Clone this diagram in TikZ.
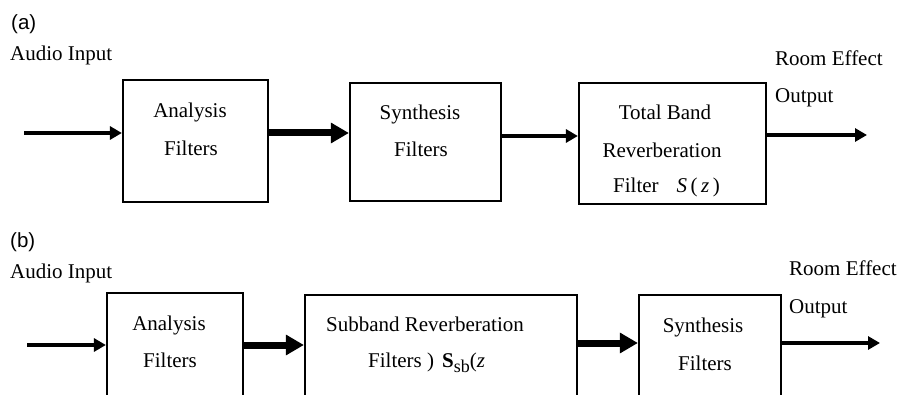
\documentclass[tikz,border=0pt]{standalone}
\usepackage{fontspec}
\setmainfont{Liberation Serif}
\newfontfamily\labelfont{Liberation Sans}
\usetikzlibrary{arrows.meta}

\tikzset{
  blk/.style={draw=black, line width=2.2pt, inner sep=0pt, rectangle},
  txt/.style={inner sep=0pt, anchor=base, font=\fontsize{21}{25}\selectfont},
  txtl/.style={txt, anchor=base west},
  tag/.style={inner sep=0pt, anchor=west, font=\labelfont\fontsize{20.5}{24}\selectfont},
  thinarr/.style={line width=3.8pt, -{Triangle[length=12pt,width=13pt]}},
  thickarr/.style={line width=7pt, -{Triangle[length=18pt,width=19.5pt]}},
}

\begin{document}
\begin{tikzpicture}[x=1pt, y=-1pt]
\useasboundingbox (0,0) rectangle (901,395);
\clip (0,0) rectangle (901,395);

% ---------------- (a) full-band reverberation ----------------
\node[tag] (la) at (11,24) {(a)};
\node[txtl] (inA) at (10,61) {Audio Input};

\node[blk, minimum width=145pt, minimum height=122pt] (anaA) at (195.5,141) {};
\node[blk, minimum width=151pt, minimum height=118pt] (synA) at (425.5,142) {};
\node[blk, minimum width=187pt, minimum height=121pt] (revA) at (672.5,143.5) {};

\node[txt] (anaA1) at (190,118) {Analysis};
\node[txt] (anaA2) at (191,156) {Filters};
\node[txt] (synA1) at (420,120) {Synthesis};
\node[txt] (synA2) at (421,157) {Filters};
\node[txt] (revA1) at (665,120) {Total Band};
\node[txt] (revA2) at (662,158) {Reverberation};
\node[txtl] (revA3) at (613,193) {Filter\hspace{18pt}\textit{S}\,(\,\textit{z}\,)};

\node[txtl] (outA1) at (775,66) {Room Effect};
\node[txtl] (outA2) at (775,103) {Output};

\coordinate (srcA) at (24,133);
\coordinate (dstA) at (867,135);
\draw[thinarr] (srcA) -- (srcA -| anaA.west);
\draw[thickarr] (anaA.east |- srcA) -- (synA.west |- srcA);
\draw[thinarr] (synA.east |- 0,136) -- (revA.west |- 0,136);
\draw[thinarr] (revA.east |- dstA) -- (dstA);

% ---------------- (b) subband reverberation ----------------
\node[tag] (lb) at (10,242) {(b)};
\node[txtl] (inB) at (10,278) {Audio Input};

\node[blk, minimum width=136pt, minimum height=160pt] (anaB) at (175,373) {};
\node[blk, minimum width=272pt, minimum height=160pt] (revB) at (441,375) {};
\node[blk, minimum width=142pt, minimum height=160pt] (synB) at (710,375) {};

\node[txt] (anaB1) at (169,330) {Analysis};
\node[txt] (anaB2) at (170,367) {Filters};
\node[txt] (revB1) at (425,331) {Subband Reverberation};
\node[txtl] (revB2) at (368,367) {Filters )\hspace{8pt}\textbf{S}\raisebox{-5pt}{\fontsize{18}{18}\selectfont sb}(\textit{z}};
\node[txt] (synB1) at (703,332) {Synthesis};
\node[txt] (synB2) at (705,370) {Filters};

\node[txtl] (outB1) at (789,275) {Room Effect};
\node[txtl] (outB2) at (789,313) {Output};

\coordinate (srcB) at (27,345);
\coordinate (dstB) at (880,343);
\draw[thinarr] (srcB) -- (srcB -| anaB.west);
\draw[thickarr] (anaB.east |- srcB) -- (revB.west |- srcB);
\draw[thickarr] (revB.east |- dstB) -- (synB.west |- dstB);
\draw[thinarr] (synB.east |- dstB) -- (dstB);
\end{tikzpicture}
\end{document}
